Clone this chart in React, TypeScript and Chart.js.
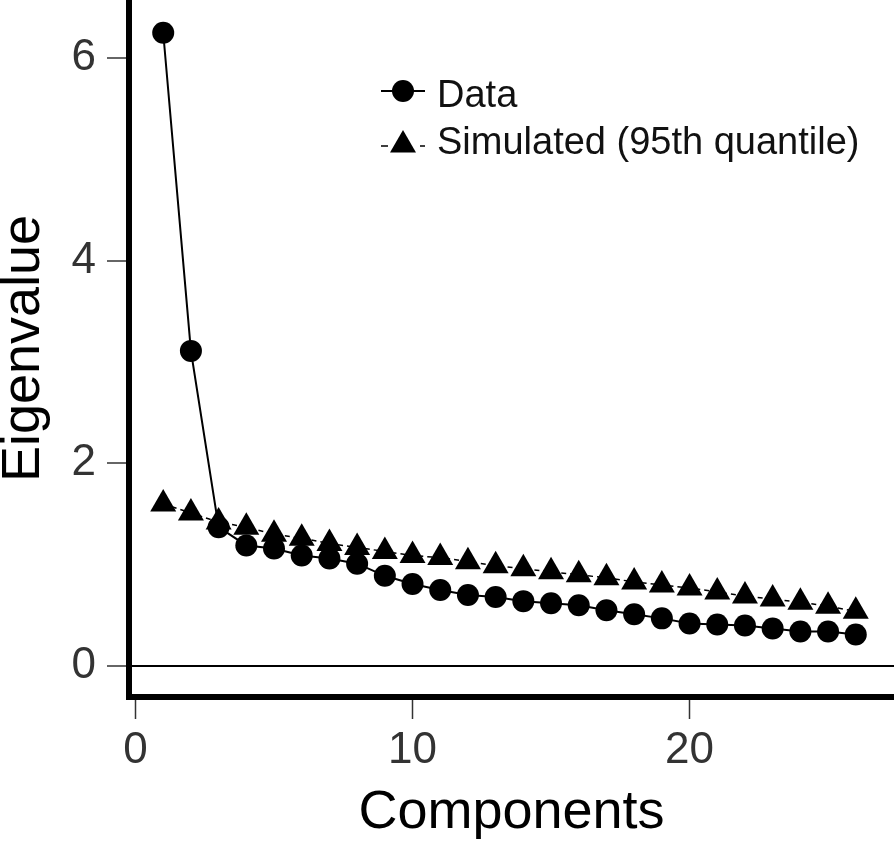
import React, { useEffect, useRef } from "react";
import { Chart, registerables } from "chart.js";

Chart.register(...registerables);

const components = [1, 2, 3, 4, 5, 6, 7, 8, 9, 10, 11, 12, 13, 14, 15, 16, 17, 18, 19, 20, 21, 22, 23, 24, 25, 26];
const dataEigen = [6.25, 3.11, 1.37, 1.19, 1.16, 1.09, 1.06, 1.01, 0.89, 0.81, 0.75, 0.70, 0.68, 0.64, 0.62, 0.60, 0.55, 0.51, 0.47, 0.42, 0.41, 0.40, 0.37, 0.34, 0.34, 0.31];
const simulatedEigen = [1.60, 1.51, 1.42, 1.37, 1.30, 1.26, 1.21, 1.17, 1.13, 1.09, 1.07, 1.03, 0.99, 0.96, 0.93, 0.90, 0.87, 0.83, 0.80, 0.77, 0.73, 0.69, 0.66, 0.63, 0.59, 0.54];
const xTickValues = [0, 10, 20];
const yTickValues = [0, 2, 4, 6];
const seriesLabels = ["Data", "Simulated (95th quantile)"];
const xTitle = "Components";
const yTitle = "Eigenvalue";

const FONT = "'Liberation Sans', Arial, Helvetica, sans-serif";

const legendPlugin = {
  id: "screeLegend",
  afterDraw(chart: any) {
    const ctx = chart.ctx as CanvasRenderingContext2D;
    const lx0 = 381, lx1 = 425, mx = 403, tx = 437;
    ctx.save();
    ctx.strokeStyle = "#000";
    ctx.fillStyle = "#000";
    ctx.lineWidth = 2;
    ctx.beginPath();
    ctx.moveTo(lx0, 91);
    ctx.lineTo(lx1, 91);
    ctx.stroke();
    ctx.beginPath();
    ctx.arc(mx, 91, 11, 0, Math.PI * 2);
    ctx.fill();
    ctx.lineWidth = 1.5;
    ctx.setLineDash([7, 32]);
    ctx.beginPath();
    ctx.moveTo(lx0, 146);
    ctx.lineTo(lx1, 146);
    ctx.stroke();
    ctx.setLineDash([]);
    const r = 15, cy = 145;
    ctx.beginPath();
    ctx.moveTo(mx, cy - r);
    ctx.lineTo(mx + Math.sin((2 * Math.PI) / 3) * r, cy + r / 2);
    ctx.lineTo(mx - Math.sin((2 * Math.PI) / 3) * r, cy + r / 2);
    ctx.closePath();
    ctx.fill();
    ctx.fillStyle = "#111";
    ctx.font = `38px ${FONT}`;
    ctx.textAlign = "left";
    ctx.textBaseline = "alphabetic";
    ctx.fillText(seriesLabels[0], tx, 107);
    ctx.fillText(seriesLabels[1], tx, 154);
    ctx.restore();
  },
};

export default function App() {
  const canvasRef = useRef<HTMLCanvasElement | null>(null);

  useEffect(() => {
    const canvas = canvasRef.current;
    if (!canvas) return;
    const chart = new Chart(canvas, {
      type: "line",
      data: {
        datasets: [
          {
            label: seriesLabels[1],
            data: components.map((c, i) => ({ x: c, y: simulatedEigen[i] })),
            borderColor: "#000",
            backgroundColor: "#000",
            borderWidth: 1.5,
            borderDash: [5, 4],
            pointStyle: "triangle",
            pointRadius: 15,
            pointBorderWidth: 0,
            pointBackgroundColor: "#000",
            tension: 0,
            clip: false as any,
          },
          {
            label: seriesLabels[0],
            data: components.map((c, i) => ({ x: c, y: dataEigen[i] })),
            borderColor: "#000",
            backgroundColor: "#000",
            borderWidth: 2,
            pointStyle: "circle",
            pointRadius: 11,
            pointBorderWidth: 0,
            pointBackgroundColor: "#000",
            tension: 0,
            clip: false as any,
          },
        ],
      },
      options: {
        responsive: false,
        animation: false,
        devicePixelRatio: 1,
        layout: { padding: 0, autoPadding: false } as any,
        plugins: {
          legend: { display: false },
          tooltip: { enabled: false },
          title: { display: false },
        },
        scales: {
          x: {
            type: "linear",
            min: -0.235,
            max: 27.38,
            afterBuildTicks: (scale: any) => {
              scale.ticks = xTickValues.map((v) => ({ value: v }));
            },
            afterFit: (scale: any) => {
              scale.height = 150;
              scale.paddingLeft = 0;
              scale.paddingRight = 0;
              scale.paddingTop = 0;
              scale.paddingBottom = 0;
            },
            ticks: {
              font: { family: FONT, size: 44 },
              color: "#333",
              padding: 5,
              maxRotation: 0,
              autoSkip: false,
            },
            grid: {
              drawOnChartArea: false,
              drawTicks: true,
              tickLength: 22,
              tickColor: "#333",
              tickWidth: 1.5,
            } as any,
            border: { display: true, color: "#000", width: 6 },
            title: {
              display: true,
              text: xTitle,
              color: "#000",
              font: { family: FONT, size: 54, lineHeight: 0.9 },
              padding: { top: 0, bottom: 10 },
            },
          },
          y: {
            type: "linear",
            min: -0.306,
            max: 6.573,
            afterBuildTicks: (scale: any) => {
              scale.ticks = yTickValues.map((v) => ({ value: v }));
            },
            afterFit: (scale: any) => {
              scale.width = 129;
              scale.paddingLeft = 0;
              scale.paddingRight = 0;
              scale.paddingTop = 0;
              scale.paddingBottom = 0;
            },
            ticks: {
              font: { family: FONT, size: 44 },
              color: "#333",
              padding: 11,
              autoSkip: false,
            },
            grid: {
              drawOnChartArea: true,
              drawTicks: true,
              tickLength: 22,
              tickColor: "#333",
              tickWidth: 1.5,
              lineWidth: 2,
              color: (ctx: any) => (ctx.tick && ctx.tick.value === 0 ? "#000" : "rgba(0,0,0,0)"),
            } as any,
            border: { display: true, color: "#000", width: 6 },
            title: {
              display: true,
              text: yTitle,
              color: "#000",
              font: { family: FONT, size: 54, lineHeight: 0.9 },
              padding: { top: 0, bottom: 0 },
            },
          },
        },
      },
      plugins: [legendPlugin],
    });
    return () => chart.destroy();
  }, []);

  return (
    <div style={{ position: "fixed", left: 0, top: 0, width: 894, height: 847, background: "#fff" }}>
      <canvas ref={canvasRef} width={894} height={847} style={{ display: "block" }} />
    </div>
  );
}
